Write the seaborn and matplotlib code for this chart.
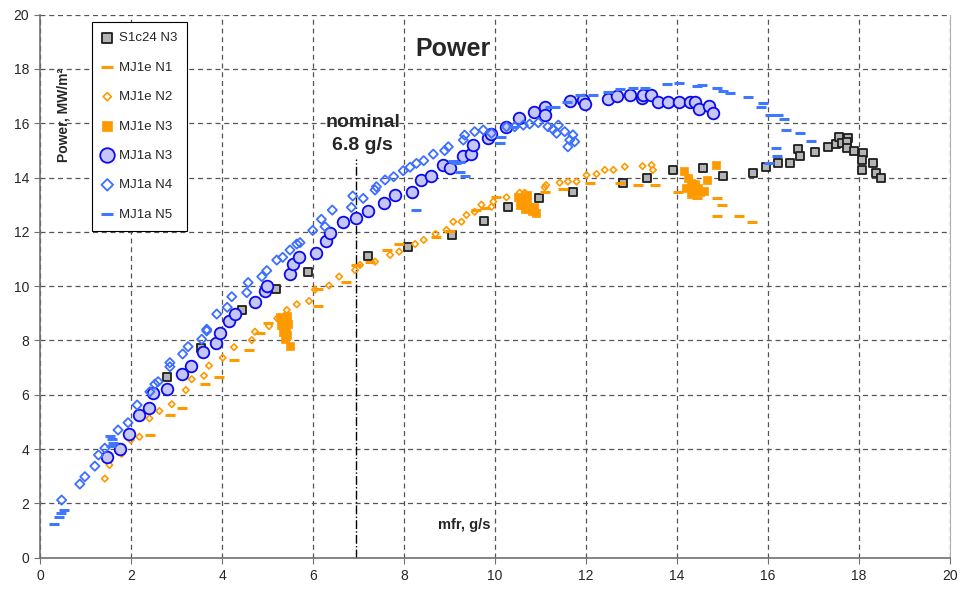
#!/usr/bin/env python3
## Power vs mass flow rate, several cells / runs (Excel style scatter)

import matplotlib
matplotlib.use('Agg')
import numpy as np
import pandas as pd
import seaborn as sns
import matplotlib.pyplot as plt

################################################
## data: mfr [g/s], power [MW/m2]

s1c24_n3_x = [2.78, 3.53, 4.43, 5.18, 5.89, 7.2, 8.09, 9.06, 9.75, 10.29, 10.96, 11.71,
              12.81, 13.33, 13.9, 14.56, 15.01, 15.67, 15.95, 16.22, 16.48, 16.66, 16.71,
              17.04, 17.31, 17.5, 17.56, 17.63, 17.76, 17.74, 17.74, 17.89, 18.08, 18.06,
              18.06, 18.3, 18.38, 18.49]
s1c24_n3_y = [6.66, 7.71, 9.12, 9.88, 10.51, 11.11, 11.43, 11.88, 12.41, 12.9, 13.23, 13.48,
              13.79, 13.97, 14.28, 14.36, 14.06, 14.15, 14.4, 14.55, 14.55, 15.04, 14.79,
              14.95, 15.13, 15.23, 15.5, 15.28, 15.44, 15.32, 15.08, 14.99, 14.91, 14.64,
              14.28, 14.55, 14.15, 13.97]

mj1e_n1_x = [2.42, 2.85, 3.12, 3.62, 3.92, 4.26, 4.58, 4.83, 5.01, 6.11, 6.11, 6.73, 6.94,
             7.26, 7.63, 7.89, 8.71, 9.0, 9.59, 9.77, 10.03, 10.62, 11.09, 11.49, 12.08,
             12.74, 13.14, 13.51, 14.02, 14.44, 14.88, 14.98, 14.88, 15.36, 15.64]
mj1e_n1_y = [4.52, 5.27, 5.52, 6.39, 6.65, 7.28, 7.66, 8.28, 8.65, 9.28, 9.88, 10.16, 10.78,
             10.9, 11.33, 11.54, 11.82, 12.03, 12.8, 12.87, 13.29, 13.17, 13.48, 13.57, 13.79,
             13.79, 13.72, 13.72, 13.48, 13.26, 13.26, 12.99, 12.59, 12.59, 12.37]

mj1e_n2_x = [1.42, 1.52, 1.79, 1.99, 2.18, 2.4, 2.62, 2.89, 3.2, 3.33, 3.6, 3.71, 4.01, 4.26,
             4.65, 4.72, 5.03, 5.21, 5.42, 5.64, 5.91, 6.04, 6.35, 6.57, 6.92, 7.03, 7.36,
             7.69, 7.89, 8.24, 8.43, 8.69, 8.93, 9.08, 9.26, 9.37, 9.55, 9.7, 9.92, 9.96,
             10.25, 10.54, 10.65, 11.09, 11.12, 11.42, 11.6, 11.79, 12.01, 12.23, 12.41,
             12.6, 12.85, 13.24, 13.44, 13.47]
mj1e_n2_y = [2.91, 3.41, 3.82, 4.33, 4.45, 5.13, 5.4, 5.65, 6.17, 6.57, 6.7, 7.07, 7.36, 7.75,
             8.01, 8.32, 8.53, 8.81, 9.12, 9.33, 9.45, 9.87, 10.02, 10.35, 10.59, 10.78, 10.9,
             11.15, 11.27, 11.55, 11.7, 11.92, 12.07, 12.37, 12.37, 12.62, 12.74, 13.0, 12.92,
             13.11, 13.27, 13.44, 13.44, 13.64, 13.72, 13.81, 13.85, 13.85, 14.09, 14.13,
             14.28, 14.28, 14.4, 14.42, 14.46, 14.28]

mj1e_n3_x = [5.28, 5.35, 5.42, 5.3, 5.38, 5.33, 5.42, 5.38, 5.45, 5.4, 5.5,
             10.5, 10.6, 10.55, 10.7, 10.75, 10.8, 10.9, 10.85, 10.65, 10.7,
             14.15, 14.25, 14.3, 14.2, 14.35, 14.45, 14.5, 14.4, 14.6, 14.3, 14.66, 14.85]
mj1e_n3_y = [8.85, 8.75, 8.9, 8.55, 8.5, 8.3, 8.2, 8.05, 8.6, 8.4, 7.8,
             13.3, 13.2, 13.0, 13.1, 12.9, 12.75, 12.7, 12.9, 12.85, 13.35,
             14.25, 14.0, 13.8, 13.6, 13.5, 13.6, 13.45, 13.75, 13.5, 13.4, 13.91, 14.45]

mj1a_n3_x = [1.46, 1.75, 1.96, 2.18, 2.4, 2.48, 2.78, 3.11, 3.31, 3.58, 3.86, 3.96, 4.15,
             4.28, 4.72, 4.94, 4.98, 5.49, 5.56, 5.69, 6.07, 6.29, 6.37, 6.65, 6.94, 7.2,
             7.55, 7.8, 8.18, 8.36, 8.58, 8.86, 9.0, 9.3, 9.48, 9.52, 9.85, 9.92, 10.25,
             10.53, 10.85, 11.09, 11.09, 11.64, 11.93, 11.97, 12.48, 12.67, 12.96, 13.22,
             13.25, 13.43, 13.58, 13.8, 14.04, 14.28, 14.39, 14.48, 14.7, 14.79]
mj1a_n3_y = [3.72, 4.0, 4.55, 5.25, 5.52, 6.05, 6.21, 6.76, 7.07, 7.58, 7.89, 8.28, 8.71,
             8.97, 9.43, 9.82, 10.0, 10.43, 10.8, 11.08, 11.23, 11.67, 11.94, 12.37, 12.5,
             12.78, 13.07, 13.36, 13.48, 13.91, 14.06, 14.46, 14.34, 14.8, 14.87, 15.2, 15.44,
             15.6, 15.87, 16.18, 16.42, 16.58, 16.3, 16.83, 16.85, 16.7, 16.88, 17.0, 17.04,
             16.92, 17.04, 17.04, 16.77, 16.77, 16.77, 16.77, 16.77, 16.51, 16.65, 16.39]

mj1a_n4_x = [0.47, 0.87, 0.98, 1.2, 1.28, 1.42, 1.71, 1.93, 2.13, 2.41, 2.52, 2.59, 2.85,
             2.85, 3.13, 3.25, 3.55, 3.66, 3.66, 3.88, 4.11, 4.21, 4.54, 4.57, 4.87, 4.98,
             5.2, 5.33, 5.49, 5.64, 5.71, 5.99, 6.18, 6.26, 6.42, 6.84, 6.87, 7.1, 7.36, 7.39,
             7.58, 7.77, 7.98, 8.13, 8.27, 8.43, 8.64, 8.89, 8.97, 9.3, 9.33, 9.55, 9.74, 9.92,
             10.25, 10.43, 10.62, 10.76, 10.95, 11.16, 11.27, 11.39, 11.35, 11.53, 11.71,
             11.75, 11.6, 11.64]
mj1a_n4_y = [2.12, 2.71, 2.98, 3.37, 3.78, 4.03, 4.7, 4.97, 5.62, 6.11, 6.39, 6.48, 7.03,
             7.18, 7.5, 7.77, 8.04, 8.35, 8.41, 8.97, 9.22, 9.61, 9.76, 10.13, 10.35, 10.57,
             10.96, 11.06, 11.33, 11.55, 11.6, 12.05, 12.46, 12.19, 12.8, 12.9, 13.32, 13.23,
             13.54, 13.66, 13.91, 14.03, 14.25, 14.38, 14.52, 14.62, 14.86, 14.99, 15.13,
             15.38, 15.56, 15.69, 15.75, 15.63, 15.87, 15.87, 15.93, 15.97, 16.02, 15.87,
             15.77, 15.93, 15.63, 15.69, 15.57, 15.32, 15.13, 15.38]

mj1a_n5_x = [0.3, 0.42, 0.45, 0.52, 1.53, 1.58, 1.6, 1.55, 8.27, 9.08, 9.13, 9.22, 9.22,
             9.33, 10.1, 10.14, 10.4, 11.2, 11.31, 11.57, 11.86, 12.15, 12.48, 12.74, 13.03,
             13.29, 13.77, 14.04, 14.43, 14.54, 14.87, 15.02, 15.16, 15.56, 15.89, 15.85,
             16.05, 16.22, 16.35, 16.39, 16.7, 16.95, 16.17, 16.2, 16.02]
mj1a_n5_y = [1.23, 1.51, 1.63, 1.75, 4.49, 4.36, 4.23, 4.1, 12.8, 14.62, 14.52, 14.56, 14.21,
             14.06, 15.26, 15.5, 15.85, 16.61, 16.6, 16.79, 17.04, 17.04, 17.16, 17.25, 17.28,
             17.31, 17.44, 17.49, 17.38, 17.41, 17.3, 17.2, 17.1, 16.98, 16.73, 16.59, 16.3,
             16.3, 16.16, 15.75, 15.63, 15.34, 15.08, 14.79, 14.52]

nominal_x = 6.95     # where the marker line sits on the chart
nominal_top = 14.7

x_ticks = np.arange(0, 21, 2)
y_ticks = np.arange(0, 21, 2)

################################################
def main():

  sns.set_style('white')
  plt.rcParams['font.family'] = ['Liberation Sans', 'DejaVu Sans']

  fig = plt.figure(figsize=(9.63, 5.89), dpi=100)
  ax = fig.add_axes([0.0418, 0.0533, 0.9447, 0.9219])

  orange = '#ff9900'
  blue_dash = '#3f78ff'

  ## one entry per series: (label, x, y, style kwargs) - later ones drawn on top
  series = [
    ('S1c24 N3', s1c24_n3_x, s1c24_n3_y,
       dict(marker='s', s=32, color='#b4b4b4', edgecolor='#1e1e1e', linewidth=1.3)),
    ('MJ1e N1', mj1e_n1_x, mj1e_n1_y,
       dict(marker='_', s=50, color=orange, linewidth=2.2)),
    ('MJ1e N2', mj1e_n2_x, mj1e_n2_y,
       dict(marker='D', s=11, color=orange, facecolor='none', edgecolor=orange, linewidth=1.2)),
    ('MJ1e N3', mj1e_n3_x, mj1e_n3_y,
       dict(marker='s', s=34, color=orange, edgecolor=orange, linewidth=0.5)),
    ('MJ1a N3', mj1a_n3_x, mj1a_n3_y,
       dict(marker='o', s=70, color='#c6c6f6', edgecolor='#0a0aee', linewidth=1.3)),
    ('MJ1a N4', mj1a_n4_x, mj1a_n4_y,
       dict(marker='D', s=22, color='#3d6fff', facecolor='none', edgecolor='#3d6fff', linewidth=1.3)),
    ('MJ1a N5', mj1a_n5_x, mj1a_n5_y,
       dict(marker='_', s=50, color=blue_dash, linewidth=2.2)),
  ]

  for name, xs, ys, kw in series:
    df = pd.DataFrame({'mfr': xs, 'power': ys})
    sns.scatterplot(data=df, x='mfr', y='power', ax=ax, label=name, zorder=3, **kw)

  ## axes, grid
  ax.set_xlim(0, 20)
  ax.set_ylim(0, 20)
  ax.set_xticks(x_ticks)
  ax.set_yticks(y_ticks)
  ax.set_xlabel('')
  ax.set_ylabel('')
  ax.grid(True, color='#555555', linestyle=(0, (4, 3)), linewidth=0.9)
  ax.set_axisbelow(True)
  for side in ['left', 'bottom']:
    ax.spines[side].set_color('#707070')
    ax.spines[side].set_linewidth(1.2)
  ax.spines['right'].set_color('#b0b0b0')
  ax.spines['top'].set_visible(False)
  ax.tick_params(axis='both', labelsize=10, length=4, width=0.8, color='#707070',
                 direction='out', pad=4, bottom=True, left=True)

  ## nominal mfr line + labels
  ax.vlines(nominal_x, 0, nominal_top, colors='black', linestyles='dashdot', linewidth=1.0)
  ax.text(7.09, 15.6, 'nominal\n6.8 g/s', ha='center', va='center', fontsize=14,
          fontweight='bold', linespacing=1.4)
  ax.text(9.07, 18.75, 'Power', ha='center', va='center', fontsize=18, fontweight='bold')
  ax.text(9.33, 1.2, 'mfr, g/s', ha='center', va='center', fontsize=10.5, fontweight='bold')
  ax.text(0.52, 16.3, 'Power, MW/m²', ha='center', va='center', rotation=90,
          fontsize=10, fontweight='bold')

  leg = ax.legend(loc='upper left', bbox_to_anchor=(0.057, 0.986), borderaxespad=0,
                  fontsize=9.5, frameon=True, fancybox=False, framealpha=1,
                  edgecolor='black', labelspacing=1.3, borderpad=0.75,
                  handlelength=0.8, handletextpad=0.5, markerscale=1.25)
  leg.get_frame().set_linewidth(0.8)
  leg.set_zorder(5)

  fig.savefig('out.png', dpi=100)
  plt.close(fig)


######################################################################
if __name__ == '__main__':
  main()
